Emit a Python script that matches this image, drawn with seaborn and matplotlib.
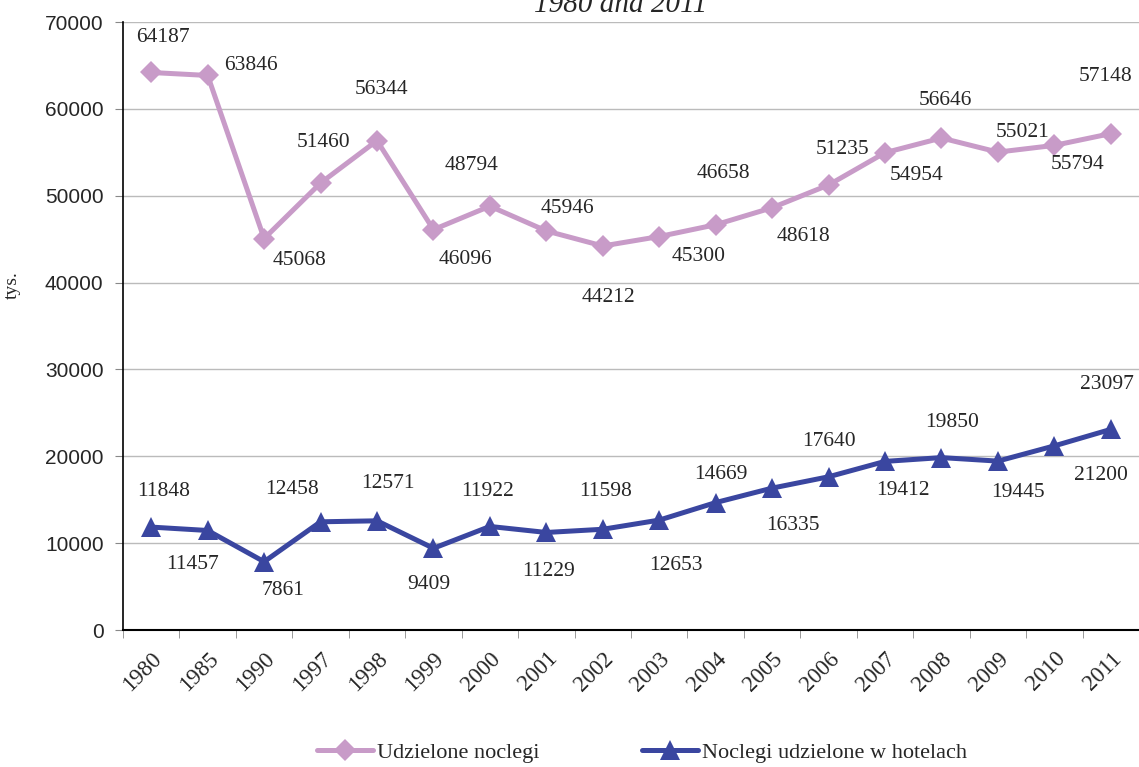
import matplotlib.pyplot as plt
import numpy as np
import pandas as pd
import seaborn as sns

years = ['1980', '1985', '1990', '1997', '1998', '1999', '2000', '2001', '2002',
         '2003', '2004', '2005', '2006', '2007', '2008', '2009', '2010', '2011']
udzielone = [64187, 63846, 45068, 51460, 56344, 46096, 48794, 45946, 44212,
             45300, 46658, 48618, 51235, 54954, 56646, 55021, 55794, 57148]
hotele = [11848, 11457, 7861, 12458, 12571, 9409, 11922, 11229, 11598,
          12653, 14669, 16335, 17640, 19412, 19850, 19445, 21200, 23097]

# label offsets in pixels (dx, dy), dy positive = up
off_udz = [(12, 37), (43, 12), (35, -19), (3, 43), (5, 54), (32, -27), (-18, 43), (21, 25), (6, -49),
           (39, -17), (8, 54), (31, -26), (14, 38), (32, -20), (4, 40), (25, 22), (23, -17), (-5, 60)]
off_hot = [(12, 38), (-15, -32), (19, -26), (-29, 35), (11, 40), (-5, -34), (-2, 37), (2, -37), (3, 40),
           (17, -43), (5, 31), (21, -35), (0, 38), (18, -27), (11, 38), (20, -29), (47, -27), (-4, 47)]

pink = '#C89BC8'
navy = '#3A46A0'

df = pd.DataFrame({'rok': years, 'Udzielone noclegi': udzielone,
                   'Noclegi udzielone w hotelach': hotele})

sns.set_style('white')
plt.rcParams['font.family'] = ['Liberation Serif', 'DejaVu Serif']

fig = plt.figure(figsize=(11.39, 7.67), dpi=100)
ax = fig.add_axes([123 / 1139, 1 - 630 / 767, 1 - 123 / 1139, (630 - 22) / 767])

sns.lineplot(data=df, x='rok', y='Udzielone noclegi', ax=ax, color=pink, lw=3.6,
             marker='D', markersize=11.5, markeredgewidth=0, sort=False,
             label='Udzielone noclegi')
sns.lineplot(data=df, x='rok', y='Noclegi udzielone w hotelach', ax=ax, color=navy, lw=3.6,
             marker='^', markersize=15, markeredgewidth=0, sort=False,
             label='Noclegi udzielone w hotelach')

for i in range(len(years)):
    ax.annotate(str(udzielone[i]), (i, udzielone[i]), xytext=off_udz[i],
                textcoords='offset pixels', ha='center', va='center_baseline', fontsize=15.5)
    ax.annotate(str(hotele[i]), (i, hotele[i]), xytext=off_hot[i],
                textcoords='offset pixels', ha='center', va='center_baseline', fontsize=15.5)

ax.set_ylim(0, 70000)
ax.set_xlim(-0.5, len(years) - 0.5)
ax.set_yticks(np.arange(0, 70001, 10000))
ax.set_yticklabels([str(v) for v in range(0, 70001, 10000)],
                   family='Liberation Sans', fontsize=15)
ax.grid(axis='y', color='#BBBBBB', lw=1)
ax.set_axisbelow(True)

ax.set_xticks(range(len(years)))
ax.set_xticklabels(years, rotation=45, ha='right', rotation_mode='anchor', fontsize=16.5)
ax.set_xticks(np.arange(-0.5, len(years), 1), minor=True)
ax.tick_params(axis='x', which='major', length=0, pad=13)
ax.tick_params(axis='x', which='minor', length=6, color='#888888', bottom=True)
ax.tick_params(axis='y', length=6, color='#888888', left=True, pad=8)

for s in ['top', 'right']:
    ax.spines[s].set_visible(False)
ax.spines['left'].set_color('black')
ax.spines['bottom'].set_color('black')
ax.spines['left'].set_linewidth(1.2)
ax.spines['bottom'].set_linewidth(1.5)

ax.set_xlabel('')
ax.set_ylabel('tys.', fontsize=14)
ax.yaxis.set_label_coords(-0.101, 0.567)

fig.text(0.545, 0.993, '1980 and 2011', ha='center', va='center',
         fontsize=21, style='italic')

ax.legend(loc='lower center', bbox_to_anchor=(0.511, -0.233), ncol=2, frameon=False,
          fontsize=16, columnspacing=4.6, handlelength=2.5, handletextpad=0.2,
          borderaxespad=0)

fig.savefig('out.png', dpi=100)
